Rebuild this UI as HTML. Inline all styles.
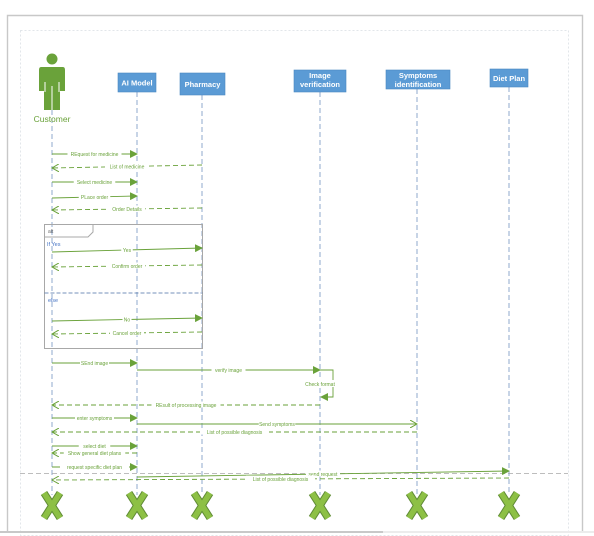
<!DOCTYPE html>
<html><head><meta charset="utf-8"><style>
html,body{margin:0;padding:0;background:#fff;}
svg{display:block;font-family:"Liberation Sans",sans-serif;}
</style></head><body>
<svg id="d" width="594" height="536" viewBox="0 0 594 536" xmlns="http://www.w3.org/2000/svg">
<defs>
<marker id="af" markerWidth="8" markerHeight="8" refX="7" refY="4" orient="auto" markerUnits="userSpaceOnUse"><path d="M0,0 L8,4 L0,8 Z" fill="#6aa23a"/></marker>
<marker id="ao" markerWidth="8" markerHeight="8" refX="7" refY="4" orient="auto" markerUnits="userSpaceOnUse"><path d="M0,0 L7,4 L0,8" fill="none" stroke="#6aa23a" stroke-width="1"/></marker>
</defs>
<path d="M7.5,532 V15.5 H582.5 V532" fill="none" stroke="#c8c8c8" stroke-width="1.4"/>
<rect x="20.5" y="30.5" width="548" height="505" fill="none" stroke="#e2e6ea" stroke-width="1" stroke-dasharray="2,2"/>
<line x1="0" y1="532" x2="383" y2="532" stroke="#c8c8c8" stroke-width="2"/>
<line x1="383" y1="532" x2="594" y2="532" stroke="#ececec" stroke-width="2"/>
<g id="g"></g>
</svg>
<script>
const NS="http://www.w3.org/2000/svg";
const g=document.getElementById('g');
function el(t,a,p){const e=document.createElementNS(NS,t);for(const k in a)e.setAttribute(k,a[k]);(p||g).appendChild(e);return e;}
const green="#6aa23a";
// participants
const partNames=["Customer","AI Model","Pharmacy","Image verification","Symptoms identification","Diet Plan"];
const partX=[52,137,202,320,417,509];
const boxes=[null,[118,73,38,19,["AI Model"]],[180,73,45,22,["Pharmacy"]],[294,70,52,22,["Image","verification"]],[386,70,64,19,["Symptoms","identification"]],[490,69,38,18,["Diet Plan"]]];
// messages
const msgFrom=[0,2,0,0,2,0,2,0,2,0,1,3,0,1,4,0,1,0,1,5];
const msgTo  =[1,0,1,1,0,2,0,2,0,1,3,0,1,4,0,1,0,1,5,0];
const msgY1=[154,165,182,198,208,252,265,321,332,363,370,405,418,424,432,446,453,467,477,478];
const msgY2=[154,168,182,196,210,248,267,318,334,363,370,405,418,424,432,446,453,467,471,480];
const msgLabels=["REquest for medicine","List of medicine","Select medicine","PLace order","Order Details","Yes","Confirm order","No","Cancel order","SEnd image","verify image","REsult of processing image","enter symptoms","Send symptoms","List of possible diagnosis","select diet","Show general diet plans","request specific diet plan","send request","List of possible diagnosis"];
const msgKinds=["s","r","s","s","r","s","r","s","r","s","s","r","s","o","r","s","r","s","s","r"];

partX.forEach((x,i)=>{
  const top=i==0?110:boxes[i][1]+boxes[i][3];
  const l=el('line',{x1:x,y1:top,x2:x,y2:495,stroke:"#8fa8cc","stroke-width":1,"stroke-dasharray":"5,3"});
  
  
});
const actor=el('g',{});


el('circle',{cx:52,cy:59,r:5.5,fill:"#6aa23a"},actor);
el('path',{d:"M41,67 H63 Q65,67 65,70 V91 H60 V110 H44 V91 H39 V70 Q39,67 41,67Z",fill:"#6aa23a"},actor);
el('line',{x1:45,y1:82,x2:45,y2:92,stroke:"#fff","stroke-width":1},actor);
el('line',{x1:59,y1:82,x2:59,y2:92,stroke:"#fff","stroke-width":1},actor);
el('line',{x1:52,y1:86,x2:52,y2:110,stroke:"#fff","stroke-width":1},actor);
const ct=el('text',{x:52,y:122,"text-anchor":"middle","font-size":8.5,fill:"#6aa23a"},actor);ct.textContent="Customer";
boxes.forEach((b,i)=>{
  if(!b)return;
  const gg=el('g',{});
  
  
  el('rect',{x:b[0],y:b[1],width:b[2],height:b[3],fill:"#5b9bd5",stroke:"#4a88c2","stroke-width":0.6},gg);
  const cx=b[0]+b[2]/2;
  if(b[4].length==1){const t=el('text',{x:cx,y:b[1]+b[3]/2+3,"text-anchor":"middle","font-size":7.5,"font-weight":"bold",fill:"#fff"},gg);t.textContent=b[4][0];}
  else{b[4].forEach((s,k)=>{const t=el('text',{x:cx,y:b[1]+8+k*9,"text-anchor":"middle","font-size":7.5,"font-weight":"bold",fill:"#fff"},gg);t.textContent=s;});}
});
const fr=el('g',{});


el('rect',{x:44.5,y:224.5,width:158,height:124,fill:"none",stroke:"#a8a8a8","stroke-width":1},fr);
el('path',{d:"M44.5,237 H88 L93,232 V224.5",fill:"none",stroke:"#a8a8a8","stroke-width":1},fr);
let t=el('text',{x:48,y:233,"font-size":5,fill:"#666"},fr);t.textContent="alt";
t=el('text',{x:47,y:246,"font-size":5.5,fill:"#4472c4"},fr);t.textContent="If Yes";
el('line',{x1:44.5,y1:293,x2:202.5,y2:293,stroke:"#4a6fa5","stroke-width":0.8,"stroke-dasharray":"4,2"},fr);
t=el('text',{x:48,y:302,"font-size":5.5,fill:"#4472c4"},fr);t.textContent="else";
const sep=el('line',{x1:20,y1:473.5,x2:568,y2:473.5,stroke:"#a8a8a8","stroke-width":0.8,"stroke-dasharray":"5,3"});


msgLabels.forEach((lab,i)=>{
  const x1=partX[msgFrom[i]],x2=partX[msgTo[i]],y1=msgY1[i],y2=msgY2[i];
  const m=el('g',{});
  
  
  const k=msgKinds[i];
  const a={x1:x1,y1:y1,x2:x2,y2:y2,stroke:green,"stroke-width":0.9};
  if(k=="r"){a["stroke-dasharray"]="5,3";a["marker-end"]="url(#ao)";}
  else if(k=="o"){a["marker-end"]="url(#ao)";}
  else a["marker-end"]="url(#af)";
  el('line',a,m);
  const mx=(x1+x2)/2,my=(y1+y2)/2;
  const fs=5;
  const w=lab.length*fs*0.5+4;
  el('rect',{x:mx-w/2,y:my-3.5,width:w,height:6,fill:"#fff"},m);
  const tt=el('text',{x:mx,y:my+1.8,"text-anchor":"middle","font-size":fs,fill:green},m);tt.textContent=lab;
});
const sl=el('g',{});


el('path',{d:"M320,370 H333 V397 H321",fill:"none",stroke:green,"stroke-width":0.9,"marker-end":"url(#af)"},sl);
el('rect',{x:304,y:380,width:33,height:7,fill:"#fff"},sl);
t=el('text',{x:320,y:386,"text-anchor":"middle","font-size":5,fill:green},sl);t.textContent="Check format";
partX.forEach((x,i)=>{
  const gg=el('g',{});
  
  
  el('line',{x1:x-8,y1:493,x2:x+8,y2:518,stroke:"#5f8a35","stroke-width":7.5},gg);
  el('line',{x1:x+8,y1:493,x2:x-8,y2:518,stroke:"#5f8a35","stroke-width":7.5},gg);
  el('line',{x1:x-8,y1:493,x2:x+8,y2:518,stroke:"#8dc045","stroke-width":5.5},gg);
  el('line',{x1:x+8,y1:493,x2:x-8,y2:518,stroke:"#8dc045","stroke-width":5.5},gg);
});
</script>
</body></html>
